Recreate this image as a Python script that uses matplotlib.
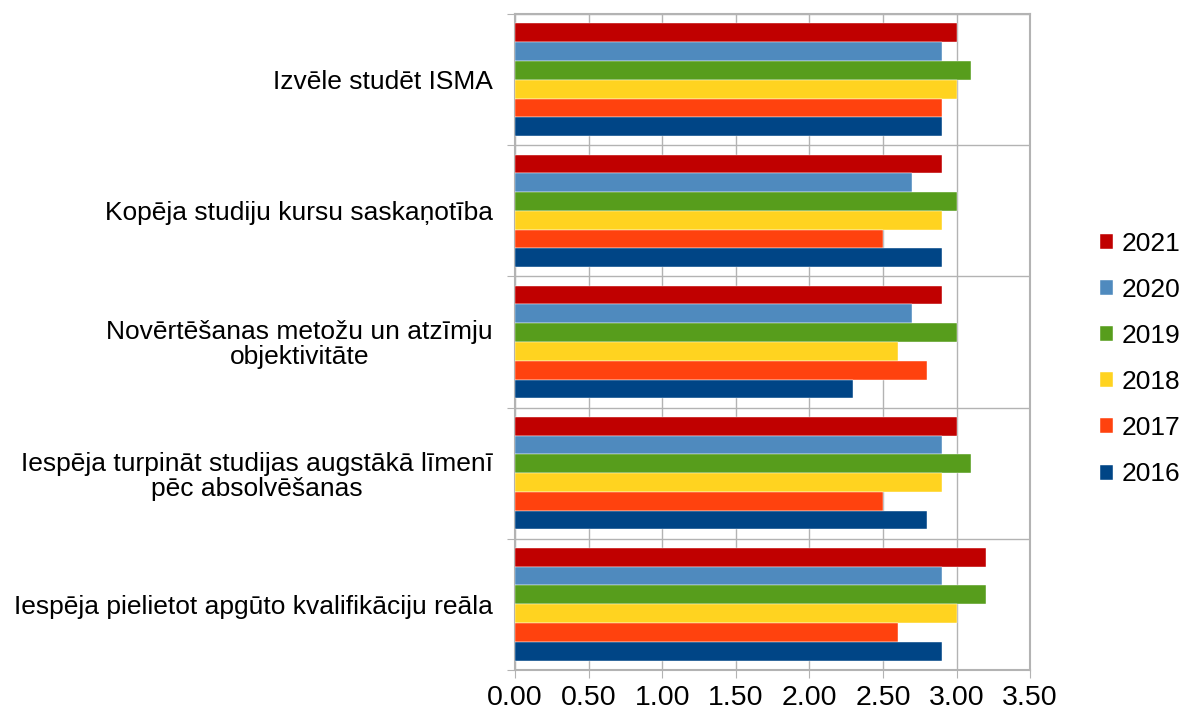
import numpy as np
import matplotlib.pyplot as plt
from matplotlib.ticker import MultipleLocator, FixedLocator, NullFormatter

plt.rcParams['font.family'] = ['Liberation Sans', 'DejaVu Sans']

categories = [
    'Izvēle studēt ISMA',
    'Kopēja studiju kursu saskaņotība',
    'Novērtēšanas metožu un atzīmju\nobjektivitāte',
    'Iespēja turpināt studijas augstākā līmenī\npēc absolvēšanas',
    'Iespēja pielietot apgūto kvalifikāciju reāla',
]
years = ['2021', '2020', '2019', '2018', '2017', '2016']
v2021 = [3.0, 2.9, 2.9, 3.0, 3.2]
v2020 = [2.9, 2.7, 2.7, 2.9, 2.9]
v2019 = [3.1, 3.0, 3.0, 3.1, 3.2]
v2018 = [3.0, 2.9, 2.6, 2.9, 3.0]
v2017 = [2.9, 2.5, 2.8, 2.5, 2.6]
v2016 = [2.9, 2.9, 2.3, 2.8, 2.9]
series = [v2021, v2020, v2019, v2018, v2017, v2016]
colors = ['#c00000', '#4f8abe', '#579d1c', '#ffd320', '#ff420e', '#004586']

fig = plt.figure(figsize=(11.84, 7.11), dpi=100)
ax = fig.add_axes([0.435, 0.058, 0.435, 0.922])

y = np.arange(len(categories))
h = 0.86 / len(years)
for k, (vals, col, yr) in enumerate(zip(series, colors, years)):
    off = (k - (len(years) - 1) / 2) * h
    ax.barh(y + off, vals, height=h, color=col, label=yr,
            edgecolor='white', linewidth=0.3, zorder=3)

ax.set_xlim(0, 3.5)
ax.set_ylim(len(categories) - 0.5, -0.5)
ax.xaxis.set_major_locator(MultipleLocator(0.5))
ax.xaxis.set_major_formatter(plt.FuncFormatter(lambda v, p: f'{v:.2f}'))

# category separators as major ticks, names on minor ticks at the centres
ax.yaxis.set_major_locator(FixedLocator(np.arange(-0.5, len(categories), 1.0)))
ax.yaxis.set_major_formatter(NullFormatter())
ax.yaxis.set_minor_locator(FixedLocator(y))
ax.set_yticklabels(categories, minor=True, ha='right', multialignment='center',
                   fontsize=19, linespacing=1.05)
ax.tick_params(axis='y', which='minor', length=0, pad=16)
ax.tick_params(axis='y', which='major', length=6, color='#b3b3b3')
ax.tick_params(axis='x', length=6, color='#b3b3b3', labelsize=20.5, pad=5)

ax.grid(True, which='major', color='#b3b3b3', linewidth=1.0, zorder=0)
for s in ax.spines.values():
    s.set_color('#b3b3b3')
    s.set_linewidth(1.5)

leg = ax.legend(loc='center left', bbox_to_anchor=(1.09, 0.474), frameon=False,
                fontsize=19, handlelength=0.5, handleheight=0.5,
                labelspacing=0.84, handletextpad=0.3)

fig.savefig('out.png', dpi=100)
